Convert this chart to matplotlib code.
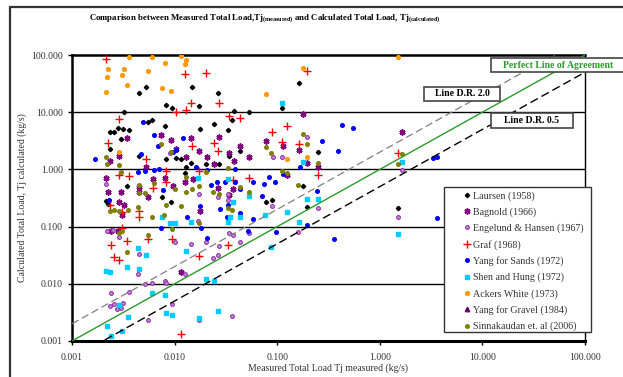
import matplotlib
matplotlib.use("Agg")
import matplotlib.pyplot as plt
from matplotlib.patches import Rectangle
from matplotlib.ticker import FixedLocator, FuncFormatter, NullLocator

plt.rcParams['font.family'] = ['Liberation Serif', 'DejaVu Serif']
plt.rcParams['mathtext.fontset'] = 'custom'
plt.rcParams['mathtext.rm'] = 'Liberation Serif'
plt.rcParams['mathtext.bf'] = 'Liberation Serif:bold'

# measured (x) / calculated (y) total load, kg/s
laursen_x = [0.0045, 0.0053, 0.0148, 0.0265, 0.0082, 0.0094, 0.0173, 0.0379, 0.0531, 0.163,
             0.111, 0.0032, 0.0060, 0.0055, 0.00235, 0.00257, 0.00281, 0.00314, 0.0036, 0.0030,
             0.0081, 0.0177, 0.0242, 0.0331, 0.0362, 0.00235, 0.0045, 0.0082, 0.0103, 0.0115,
             0.0145, 0.0129, 0.0126, 0.0202, 0.0271, 0.0339, 0.0434, 0.0034, 0.00214, 0.00224,
             0.0075, 0.0092, 0.078, 0.089, 0.178, 0.195, 0.25, 1.50]
laursen_y = [21.7, 28, 28, 21.7, 13.4, 11.8, 12.8, 10.5, 10.1, 32,
             11.8, 10.1, 7.3, 6.7, 4.5, 4.5, 5.3, 5.1, 4.9, 3.4,
             5.7, 5.1, 6.2, 4.9, 7.3, 2.3, 1.71, 1.52, 1.58, 1.52,
             1.29, 1.10, 0.86, 1.24, 1.24, 1.71, 2.1, 0.51, 0.28, 0.25,
             0.33, 0.27, 0.27, 0.29, 0.51, 0.22, 2.0, 0.21]

bagnold_x = [0.0029, 0.00235, 0.00214, 0.00224, 0.0030, 0.0029, 0.0032, 0.0031, 0.0045, 0.0055,
             0.0053, 0.0074, 0.0092, 0.0103, 0.0145, 0.0129, 0.0081, 0.0097, 0.0126, 0.0151,
             0.0173, 0.0207, 0.0242, 0.0271, 0.0339, 0.0379, 0.0434, 0.0531, 0.078, 0.114,
             0.125, 0.0177, 0.0339, 0.178, 0.163, 0.195, 0.25, 0.0062, 0.0034, 0.0045,
             0.0024, 0.0028, 0.0115, 1.64, 0.0265, 0.0371]
bagnold_y = [1.71, 1.40, 0.71, 0.40, 0.40, 0.27, 0.24, 0.16, 0.40, 0.33,
             1.10, 4.0, 3.3, 2.3, 3.5, 1.65, 0.71, 0.51, 0.60, 0.68,
             2.1, 1.65, 1.24, 3.7, 1.9, 1.40, 2.6, 1.65, 3.1, 2.6,
             0.80, 0.19, 0.36, 9.3, 2.2, 1.29, 1.10, 0.68, 3.5, 0.49,
             0.084, 0.084, 0.016, 4.5, 0.47, 0.45]

engelund_x = [0.0024, 0.00235, 0.00257, 0.00275, 0.0030, 0.00314, 0.0036, 0.0044, 0.0045, 0.0052,
              0.0060, 0.0081, 0.0082, 0.0094, 0.0101, 0.0145, 0.0126, 0.0173, 0.0202, 0.0237,
              0.0265, 0.0271, 0.0339, 0.0371, 0.0434, 0.0531, 0.0362, 0.160, 0.00219, 0.0025,
              0.0029, 0.0055, 0.00214, 0.0090, 0.0173, 0.0265, 0.0331, 0.0331, 0.089, 0.091,
              0.195, 0.25, 0.111, 1.64, 1.50, 0.0169]
engelund_y = [0.0069, 0.0041, 0.0044, 0.0036, 0.0038, 0.0046, 0.0072, 0.015, 0.033, 0.010,
              0.0103, 0.0112, 0.0103, 0.0044, 0.054, 0.050, 0.015, 0.0023, 0.054, 0.028,
              0.032, 0.046, 0.077, 0.071, 0.054, 0.077, 0.0027, 0.080, 0.084, 0.087,
              0.066, 0.0023, 0.56, 1.9, 0.37, 0.33, 0.37, 0.29, 0.23, 1.65,
              3.7, 0.21, 1.65, 0.98, 0.15, 0.125]

graf_x = [0.00214, 0.0126, 0.0202, 0.0145, 0.0129, 0.0103, 0.0271, 0.195, 0.0029, 0.00224,
          0.0148, 0.0242, 0.0265, 0.0339, 0.0434, 0.089, 0.125, 0.111, 0.163, 0.0053,
          0.0029, 0.0036, 0.0062, 0.0082, 0.0082, 0.0173, 0.0371, 0.0531, 0.25, 0.00235,
          0.0031, 0.0045, 0.0045, 0.0024, 0.00257, 0.0029, 0.0031, 0.0034, 0.0055, 0.0094,
          0.0173, 0.0331, 0.0115, 1.50]
graf_y = [85, 47, 48, 14.5, 10.9, 10.1, 14.5, 52, 7.6, 2.9,
          2.6, 2.9, 2.1, 8.6, 7.9, 4.5, 5.7, 3.0, 2.8, 1.52,
          0.80, 0.77, 0.47, 0.60, 0.94, 0.94, 0.65, 0.71, 0.80, 0.24,
          0.18, 0.19, 0.147, 0.048, 0.029, 0.026, 0.095, 0.056, 0.061, 0.061,
          0.031, 0.048, 0.0013, 1.9]

sands_x = [0.00168, 0.0049, 0.0063, 0.0069, 0.0097, 0.0103, 0.0121, 0.0047, 0.0044, 0.0052,
           0.0063, 0.0071, 0.0162, 0.0207, 0.0388, 0.0226, 0.0259, 0.0310, 0.0388, 0.0434,
           0.0581, 0.0743, 0.0832, 0.0952, 0.114, 0.167, 0.0023, 0.0177, 0.0277, 0.0132,
           0.0331, 0.0324, 0.244, 0.0181, 0.0207, 0.0074, 0.0519, 0.0581, 0.0973, 0.195,
           0.0434, 0.428, 0.549, 0.273, 0.392, 3.30, 3.61, 3.61, 0.358, 0.0077,
           0.0712]
sands_y = [1.52, 6.7, 4.0, 2.6, 2.0, 2.2, 3.5, 1.86, 0.90, 0.94,
           0.98, 1.02, 1.10, 0.98, 1.02, 0.53, 0.60, 0.60, 0.60, 0.45,
           0.60, 0.56, 0.74, 0.60, 0.83, 1.10, 0.29, 0.23, 0.20, 0.147,
           0.24, 0.147, 0.42, 0.095, 0.063, 0.095, 0.084, 0.136, 0.080, 0.107,
           0.17, 6.0, 5.3, 3.1, 2.1, 1.58, 1.65, 0.14, 0.061, 0.44,
           0.34]

shen_x = [0.00214, 0.00235, 0.0034, 0.0044, 0.0045, 0.0053, 0.0075, 0.0090, 0.0101, 0.0060,
          0.0081, 0.0082, 0.0094, 0.0129, 0.0145, 0.0202, 0.0242, 0.0265, 0.0173, 0.0331,
          0.0347, 0.0434, 0.0761, 0.0871, 0.125, 0.163, 0.0029, 0.0035, 0.0031, 0.0024,
          0.0022, 0.0169, 0.0331, 0.0371, 0.0531, 0.111, 0.178, 1.64, 0.195, 0.25,
          1.50]
shen_y = [0.017, 0.016, 0.020, 0.042, 0.018, 0.032, 0.147, 0.116, 0.116, 0.0069,
          0.0064, 0.0031, 0.0028, 0.037, 0.12, 0.0121, 0.0112, 0.0033, 0.0025, 0.12,
          0.147, 0.15, 0.16, 0.044, 0.18, 0.12, 0.0043, 0.0026, 0.0015, 0.0012,
          0.0018, 0.71, 0.68, 0.27, 0.34, 14.5, 1.35, 1.35, 0.30, 0.30,
          0.074]

ackers_x = [0.00224, 0.00219, 0.00214, 0.0036, 0.0032, 0.0031, 0.0034, 0.0060, 0.0055, 0.0081,
            0.0075, 0.0092, 0.0115, 0.0129, 0.0126, 0.078, 0.178, 0.0029, 0.125, 0.195,
            1.50]
ackers_y = [57, 41, 22.5, 92, 57, 45, 30, 92, 52, 72,
            26.5, 23.5, 96, 82, 70, 20.8, 59, 2.0, 1.52, 1.65,
            92]

gravel_x = []
gravel_y = []

sinna_x = [0.00214, 0.00219, 0.0029, 0.0030, 0.0045, 0.0045, 0.0052, 0.0063, 0.0074, 0.0092,
           0.0129, 0.0129, 0.0148, 0.0173, 0.0202, 0.0237, 0.0271, 0.0331, 0.0434, 0.0531,
           0.0871, 0.078, 0.178, 0.195, 0.160, 0.25, 0.00235, 0.00257, 0.0029, 0.0035,
           0.0044, 0.0060, 0.0079, 0.0082, 0.0115, 0.0173, 0.0331, 0.0362, 0.0029, 0.0031,
           0.0034, 0.0055, 0.0094, 0.111, 0.125, 1.64, 1.50, 0.0101]
sinna_y = [1.65, 1.24, 1.19, 0.90, 0.53, 0.39, 0.39, 0.58, 2.8, 2.0,
           0.74, 0.40, 0.45, 0.51, 0.90, 0.40, 0.37, 1.06, 0.49, 0.40,
           1.9, 2.5, 4.2, 2.8, 0.53, 1.29, 0.19, 0.195, 0.19, 0.195,
           0.22, 0.15, 0.16, 0.24, 0.23, 0.116, 0.21, 0.195, 0.077, 0.084,
           0.036, 0.071, 0.091, 0.94, 0.86, 1.86, 1.24, 0.45]

ratio_lines = [1.0, 2.0, 0.5]
line_x = [0.001, 100]
decades = [0.001, 0.01, 0.1, 1, 10, 100]

W, H = 623, 377
fig = plt.figure(figsize=(W / 100, H / 100), dpi=100)
ax = fig.add_axes([72 / W, 1 - 341 / H, 513 / W, 286 / H])


def fbox(x0, y0, x1, y1, **kw):
    # rectangle given in pixel coords (top-left origin)
    r = Rectangle((x0 / W, 1 - y1 / H), (x1 - x0) / W, (y1 - y0) / H,
                  transform=fig.transFigure, **kw)
    fig.patches.append(r)
    return r


# outer chart border
fbox(10, 7, 700, 420, fill=False, edgecolor='#333333', linewidth=1.6)

ax.set_xscale('log')
ax.set_yscale('log')
ax.set_xlim(0.001, 100)
ax.set_ylim(0.001, 100)

for d in decades[1:-1]:
    ax.axhline(d, color='black', linewidth=1.0, zorder=1)

# reference lines
ax.plot(line_x, [ratio_lines[1] * v for v in line_x], color='#808080', linewidth=0.9,
        dashes=(6, 3), zorder=4)
ax.plot(line_x, [ratio_lines[2] * v for v in line_x], color='black', linewidth=1.0,
        dashes=(6, 3), zorder=4)
ax.plot(line_x, [ratio_lines[0] * v for v in line_x], color='#2a9a2a', linewidth=1.0, zorder=4)

ax.plot(laursen_x, laursen_y, 'D', ms=2.2, color='black', ls='none', label='Laursen (1958)', zorder=3)
ax.plot(bagnold_x, bagnold_y, marker=(6, 2, 0), ms=4.3, mew=1.2, color='#800080', ls='none',
        label='Bagnold (1966)', zorder=3)
ax.plot(engelund_x, engelund_y, 'o', ms=2.7, mfc='#c890d8', mec='#9030a8', mew=0.8, ls='none',
        label='Engelund & Hansen (1967)', zorder=3)
ax.plot(graf_x, graf_y, '+', ms=5.2, mew=1.0, color='#ff0000', ls='none', label='Graf (1968)', zorder=3)
ax.plot(sands_x, sands_y, 'o', ms=2.6, color='#0000ff', ls='none', label='Yang for Sands (1972)', zorder=3)
ax.plot(shen_x, shen_y, 's', ms=2.5, color='#00ccff', ls='none', label='Shen and Hung (1972)', zorder=3)
ax.plot(ackers_x, ackers_y, 'o', ms=2.7, color='#ff9900', ls='none', label='Ackers White (1973)', zorder=3)
ax.plot(gravel_x, gravel_y, '^', ms=3.2, color='#660066', ls='none', label='Yang for Gravel (1984)', zorder=3)
ax.plot(sinna_x, sinna_y, 'o', ms=2.6, color='#808000', ls='none',
        label='Sinnakaudan et. al (2006)', zorder=3)

ax.xaxis.set_major_locator(FixedLocator(decades))
ax.yaxis.set_major_locator(FixedLocator(decades))
ax.xaxis.set_minor_locator(NullLocator())
ax.yaxis.set_minor_locator(NullLocator())
fmt = FuncFormatter(lambda v, p: f'{v:.3f}')
ax.xaxis.set_major_formatter(fmt)
ax.yaxis.set_major_formatter(fmt)
ax.tick_params(axis='both', labelsize=7, direction='out', length=3, width=1, colors='black',
               labelcolor='#333333')
ax.tick_params(axis='x', pad=6)

ax.spines['left'].set_linewidth(1.8)
ax.spines['bottom'].set_linewidth(2.2)
ax.spines['top'].set_linewidth(1.8)
ax.spines['right'].set_linewidth(1.0)

ax.set_xlabel('Measured Total Load Tj measured (kg/s)', fontsize=7, color='#333333', labelpad=1)
ax.set_ylabel('Calculated Total Load, Tj calculated (kg/s)', fontsize=7, color='#333333', labelpad=3)

fig.text(265 / W, 1 - 19 / H,
         r'Comparison between Measured Total Load,Tj$_{\mathbf{(measured)}}$ and Calculated Total Load, Tj$_{\mathbf{(calculated)}}$',
         ha='center', va='center', fontsize=6.3, fontweight='bold')

# annotation boxes
fbox(491, 58, 640, 72, facecolor='white', edgecolor='#444444', linewidth=1.2, zorder=5)
fig.text(558 / W, 1 - 65 / H, 'Perfect Line of Agreement', ha='center', va='center',
         fontsize=7, fontweight='bold', color='#2a9a2a', zorder=6)
fbox(424, 87, 500, 101, facecolor='white', edgecolor='#444444', linewidth=1.2, zorder=5)
fig.text(462 / W, 1 - 94 / H, 'Line D.R. 2.0', ha='center', va='center',
         fontsize=7, fontweight='bold', zorder=6)
fbox(491, 113, 573, 128, facecolor='white', edgecolor='#444444', linewidth=1.2, zorder=5)
fig.text(532 / W, 1 - 120.5 / H, 'Line D.R. 0.5', ha='center', va='center',
         fontsize=7, fontweight='bold', zorder=6)

# legend frame drawn separately (wide left margin like the source)
fbox(444, 187, 591, 332, facecolor='white', edgecolor='#333333', linewidth=1.0, zorder=8)
handles, labels = ax.get_legend_handles_labels()
leg = fig.legend(handles, labels, loc='upper left', bbox_to_anchor=(460 / W, 1 - 187 / H),
                 fontsize=7.2, frameon=False,
                 handlelength=0.6, handletextpad=0.3, labelspacing=0.66,
                 borderpad=0.4, borderaxespad=0)
leg.set_zorder(10)
for t in leg.get_texts():
    t.set_color('#333333')

fig.savefig('out.png', dpi=100)
